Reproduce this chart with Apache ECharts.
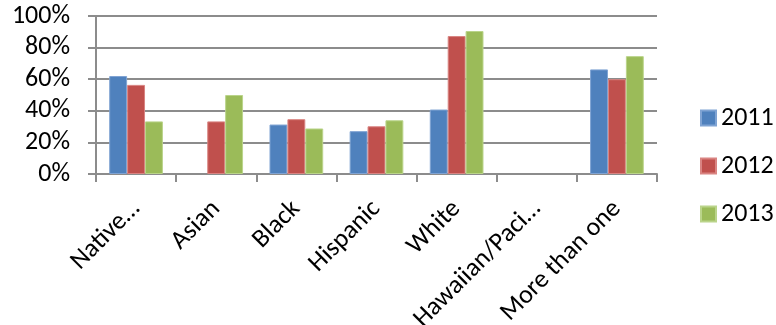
<!DOCTYPE html>
<html>
<head>
<meta charset="utf-8">
<script src="https://cdn.jsdelivr.net/npm/echarts@6/dist/echarts.min.js"></script>
<style>
  html, body { margin: 0; padding: 0; background: #ffffff; }
  #chart { width: 776px; height: 325px; }
</style>
</head>
<body>
<div id="chart"></div>
<script>
// Share of each group, per year (fractions of 1)
const categories = ['Native…', 'Asian', 'Black', 'Hispanic', 'White', 'Hawaiian/Paci…', 'More than one'];
const years = ['2011', '2012', '2013'];
const values2011 = [0.62, null, 0.313, 0.271, 0.408, null, 0.662];
const values2012 = [0.564, 0.333, 0.347, 0.302, 0.873, null, 0.60];
const values2013 = [0.333, 0.50, 0.288, 0.34, 0.905, null, 0.746];
const yTicks = [0, 0.2, 0.4, 0.6, 0.8, 1.0];

const colors = ['#4F81BD', '#C0504D', '#9BBB59'];
const edgeColors = ['#7fa3d3', '#d98482', '#bad48a'];
const fontFamily = 'Carlito, "Liberation Sans", Arial, sans-serif';
const gridColor = '#8c8c8c';

const chart = echarts.init(document.getElementById('chart'), null, { renderer: 'canvas' });

const seriesData = [values2011, values2012, values2013];

chart.setOption({
  animation: false,
  backgroundColor: '#ffffff',
  textStyle: { fontFamily: fontFamily, color: '#000' },
  color: colors,
  grid: { left: 96, right: 119, top: 16, bottom: 151, containLabel: false, outerBoundsMode: 'none' },
  legend: {
    orient: 'vertical',
    left: 695,
    top: 100,
    padding: 5,
    itemWidth: 15,
    itemHeight: 15,
    itemGap: 22,
    icon: 'rect',
    data: years,
    textStyle: { fontFamily: fontFamily, fontSize: 26, color: '#000' }
  },
  xAxis: {
    type: 'category',
    data: categories,
    axisLine: { show: true, lineStyle: { color: gridColor, width: 2 } },
    axisTick: { show: true, length: 8, lineStyle: { color: gridColor, width: 2 } },
    axisLabel: {
      rotate: 45,
      interval: 0,
      margin: 31,
      fontSize: 26,
      color: '#000',
      fontFamily: fontFamily
    },
    splitLine: { show: false }
  },
  yAxis: {
    type: 'value',
    min: yTicks[0],
    max: yTicks[yTicks.length - 1],
    interval: 0.2,
    axisLine: { show: true, lineStyle: { color: gridColor, width: 2 } },
    axisTick: { show: true, length: 8, lineStyle: { color: gridColor, width: 2 } },
    axisLabel: {
      margin: 26,
      fontSize: 26,
      color: '#000',
      fontFamily: fontFamily,
      formatter: v => Math.round(v * 100) + '%'
    },
    splitLine: { show: true, lineStyle: { color: gridColor, width: 2 } }
  },
  series: years.map((y, i) => ({
    name: y,
    type: 'bar',
    data: seriesData[i],
    barGap: '0%',
    barCategoryGap: '33%',
    itemStyle: { color: colors[i], borderColor: edgeColors[i], borderWidth: 1 }
  }))
});
</script>
</body>
</html>
